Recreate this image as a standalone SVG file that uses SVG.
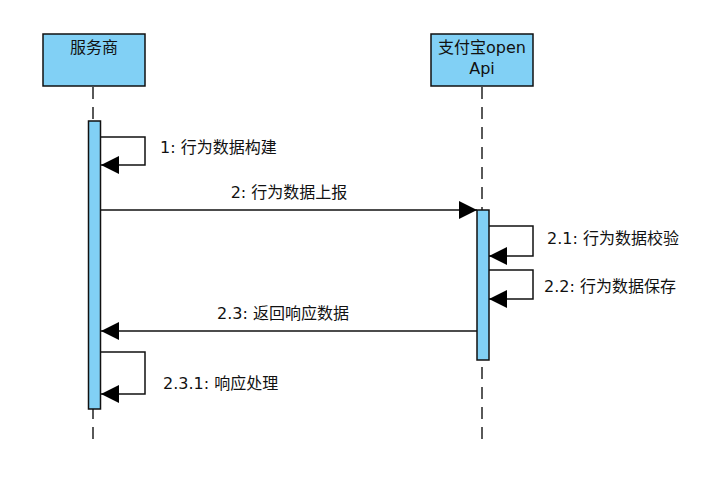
<svg xmlns="http://www.w3.org/2000/svg" width="716" height="493" viewBox="0 0 716 493">
<style>
text{font-family:"DejaVu Sans","Noto Sans CJK SC",sans-serif;font-size:16px;fill:#111}
.box{fill:#81d0f5;stroke:#111;stroke-width:1.5}
.life{stroke:#222;stroke-width:1.5;stroke-dasharray:12 8;fill:none}
.msg{stroke:#111;stroke-width:1.5;fill:none}
</style>
<defs>
<marker id="ah" markerWidth="18" markerHeight="18" refX="18" refY="9" orient="auto" markerUnits="userSpaceOnUse">
<path d="M0,0 L18,9 L0,18 Z" fill="#000"/>
</marker>
</defs>
<rect width="716" height="493" fill="#fff"/>
<g id="lifelines">
<line class="life" x1="93" y1="87" x2="93" y2="440"/>
<line class="life" x1="482" y1="87" x2="482" y2="440"/>
</g>
<g id="node-fws">
<rect class="box" x="43" y="34" width="102" height="52"/>
<text x="94" y="53" text-anchor="middle">服务商</text>
</g>
<g id="node-alipay">
<rect class="box" x="431" y="34" width="102" height="52"/>
<text x="482" y="53" text-anchor="middle">支付宝open</text>
<text x="482" y="74" text-anchor="middle">Api</text>
</g>
<g id="act-fws">
<rect class="box" x="88.5" y="121" width="12" height="288"/>
</g>
<g id="act-alipay">
<rect class="box" x="477" y="210" width="12" height="150"/>
</g>
<g id="connectors">
<polyline class="msg" points="101,137 145,137 145,165 101,165" marker-end="url(#ah)"/>
<line class="msg" x1="101" y1="210" x2="477" y2="210" marker-end="url(#ah)"/>
<polyline class="msg" points="489,226 533,226 533,256 489,256" marker-end="url(#ah)"/>
<polyline class="msg" points="489,270 533,270 533,299 489,299" marker-end="url(#ah)"/>
<line class="msg" x1="477" y1="331" x2="101" y2="331" marker-end="url(#ah)"/>
<polyline class="msg" points="101,352 145,352 145,394 101,394" marker-end="url(#ah)"/>
</g>
<g id="labels">
<text x="160" y="153">1: 行为数据构建</text>
<text x="289" y="198" text-anchor="middle">2: 行为数据上报</text>
<text x="547" y="244">2.1: 行为数据校验</text>
<text x="544" y="292">2.2: 行为数据保存</text>
<text x="283" y="319" text-anchor="middle">2.3: 返回响应数据</text>
<text x="163" y="389">2.3.1: 响应处理</text>
</g>
</svg>
